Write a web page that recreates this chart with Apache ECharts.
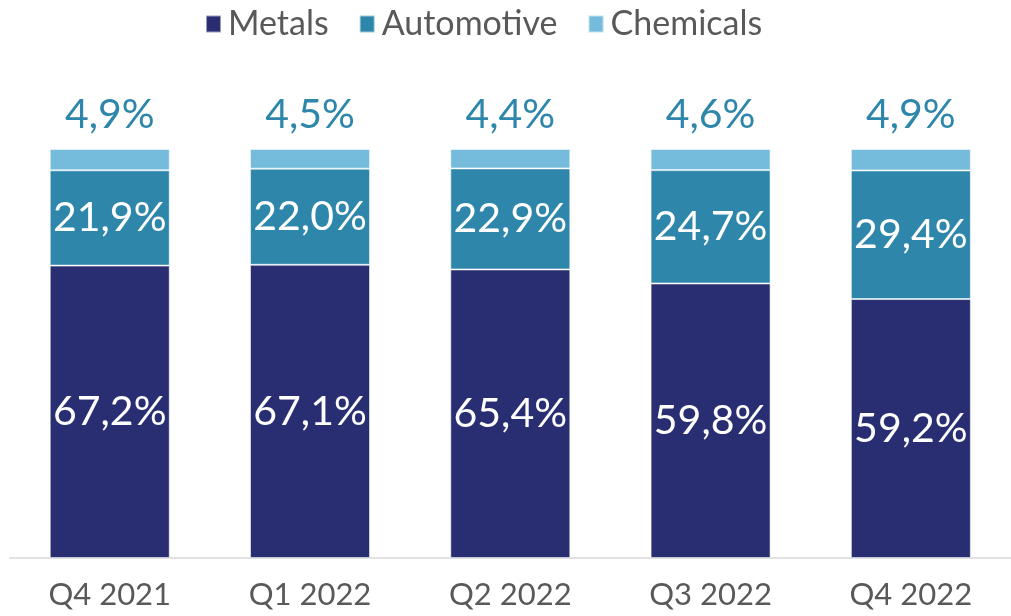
<!DOCTYPE html>
<html><head><meta charset="utf-8">
<script src="https://cdn.jsdelivr.net/npm/echarts@6/dist/echarts.min.js"></script>
<style>html,body{margin:0;padding:0;background:#fff}#c{width:1011px;height:616px}</style>
</head><body><div id="c"></div>
<script>
const categories = ['Q4 2021','Q1 2022','Q2 2022','Q3 2022','Q4 2022'];
const metals = [67.2, 67.1, 65.4, 59.8, 59.2];
const automotive = [21.9, 22.0, 22.9, 24.7, 29.4];
const chemicals = [4.9, 4.5, 4.4, 4.6, 4.9];
const seriesNames = ['Metals','Automotive','Chemicals'];
const colors = ['#292e72','#2e87ab','#75bbdb'];

const raw = [metals, automotive, chemicals];
const totals = categories.map((_, i) => metals[i] + automotive[i] + chemicals[i]);
const fmt = v => v.toFixed(1).replace('.', ',') + '%';
const FONT = 'Lato';

const series = raw.map((arr, s) => ({
  name: seriesNames[s],
  type: 'bar',
  stack: 'total',
  barWidth: 120,
  itemStyle: { color: colors[s], borderColor: 'rgba(255,255,255,0.55)', borderWidth: 1 },
  data: arr.map((v, i) => ({ value: v / totals[i] * 100, raw: v })),
  label: {
    show: true,
    position: s === 2 ? 'top' : 'inside',
    distance: 14,
    color: s === 2 ? '#2e87ab' : '#ffffff',
    fontFamily: FONT,
    fontSize: 41,
    formatter: p => fmt(p.data.raw)
  }
}));

const chart = echarts.init(document.getElementById('c'));
chart.setOption({
  animation: false,
  legend: {
    top: 2,
    left: 200,
    itemWidth: 15,
    itemHeight: 17,
    itemGap: 30,
    icon: 'rect',
    textStyle: { fontFamily: FONT, fontSize: 34, color: '#595959', padding: [0, 0, 0, 2] },
    data: seriesNames
  },
  grid: { left: 9.6, width: 1004, top: 149, bottom: 58 },
  xAxis: {
    type: 'category',
    data: categories,
    axisLine: { lineStyle: { color: '#d9d9d9', width: 1.5 } },
    axisTick: { show: false },
    axisLabel: { fontFamily: FONT, fontSize: 31, color: '#595959', margin: 21 }
  },
  yAxis: { type: 'value', min: 0, max: 100, show: false, splitLine: { show: false } },
  series: series
});
</script></body></html>
